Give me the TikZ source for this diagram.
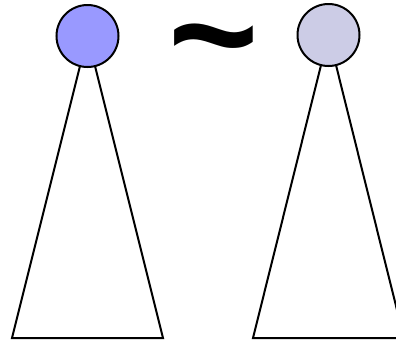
\documentclass[tikz,border=0pt]{standalone}
\usepackage{fontspec}
\setmainfont{Liberation Sans}
\begin{document}
\begin{tikzpicture}[x=1pt,y=-1pt,
  edge/.style={draw=black,line width=2pt,line join=miter},
  rootnode/.style={circle,draw=black,line width=2pt,minimum size=62pt,inner sep=0pt}]
\useasboundingbox (0,0) rectangle (396,341);
\begin{scope}
\clip (0,0) rectangle (396,341);
\coordinate (la) at (87.5,36);
\coordinate (lb) at (12,338);
\coordinate (lc) at (163,338);
\coordinate (ra) at (328.5,35);
\coordinate (rb) at (253,338);
\coordinate (rc) at (404,338);
\draw[edge] (la) -- (lb) -- (lc) -- cycle;
\draw[edge] (ra) -- (rb) -- (rc) -- cycle;
\node[rootnode,fill={rgb,255:red,153;green,153;blue,255}] (lroot) at (la) {};
\node[rootnode,fill={rgb,255:red,204;green,204;blue,230}] (rroot) at (ra) {};
\node[font=\fontsize{155}{155}\bfseries\selectfont,inner sep=0pt] (tilde) at (214,56) {\char`\~};
\end{scope}
\end{tikzpicture}
\end{document}
